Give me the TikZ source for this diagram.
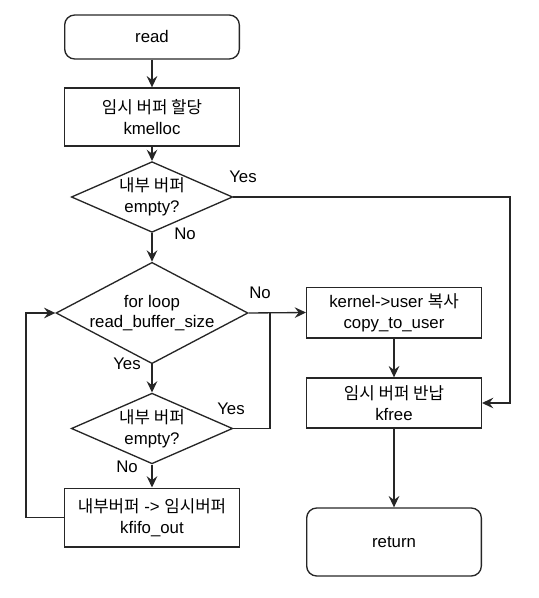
\documentclass[tikz,border=0pt]{standalone}
\usepackage{fontspec}
\setmainfont{Liberation Sans}
\newfontfamily\kr{Noto Sans CJK KR}
\usepackage{tikz}
\usetikzlibrary{shapes.geometric,arrows.meta}

\begin{document}
\begin{tikzpicture}[x=0.75pt,y=-0.75pt,
    every node/.style={font=\fontsize{12.6}{15.6}\selectfont,align=center,inner sep=0pt},
    box/.style={draw=black!85,line width=1pt,minimum width=131pt},
    rbox/.style={box,rounded corners=7.5pt},
    cond/.style={draw=black!85,line width=1pt,diamond,label={center:#1}},
    arr/.style={draw=black!85,line width=1pt,-{Stealth[length=8.5pt,width=8pt,inset=3pt]}},
    ln/.style={draw=black!85,line width=1pt}]
    \useasboundingbox (0,0) rectangle (538,598);
    \node[rbox,minimum height=33pt] (read) at (152,37) {read};
    \node[box,minimum height=43.5pt] (alloc) at (152,117) {{\kr 임시 버퍼 할당}\\kmelloc};
    \node[cond={{\kr 내부 버퍼}\\empty?},minimum width=121pt,minimum height=53pt] (chk) at (152,197) {};
    \node[cond={for loop\\read\_buffer\_size},minimum width=144pt,minimum height=76pt] (loop) at (152,313) {};
    \node[cond={{\kr 내부 버퍼}\\empty?},minimum width=121pt,minimum height=53pt] (chkin) at (152,428.5) {};
    \node[box,minimum height=44pt] (kfifo) at (152,517.5) {{\kr 내부버퍼} -> {\kr 임시버퍼}\\kfifo\_out};
    \node[box,minimum height=38pt] (copy) at (394,312.5) {kernel->user {\kr 복사}\\copy\_to\_user};
    \node[box,minimum height=37.5pt] (free) at (394,403) {{\kr 임시 버퍼 반납}\\kfree};
    \node[rbox,minimum height=51pt] (ret) at (394,542) {return};
    \coordinate (rgt) at (510,197);
    \coordinate (jn) at (270,313);
    \coordinate (lft) at (26,517.5);
    \draw[arr] (read) -- (alloc);
    \draw[arr] (alloc) -- (chk);
    \draw[arr] (chk.east) -- (rgt) |- (free.east);
    \node (y1) at (243,177) {Yes};
    \draw[arr] (chk.south) -- (loop.north);
    \node (n1) at (185,234) {No};
    \draw[arr] (loop.east) -- (copy.west);
    \node (n2) at (260,293) {No};
    \draw[arr] (loop.south) -- (chkin.north);
    \node (y2) at (127,364) {Yes};
    \draw[ln] (chkin.east) -| (jn);
    \node (y3) at (231,409) {Yes};
    \draw[arr] (chkin.south) -- (kfifo.north);
    \node (n3) at (127,467) {No};
    \draw[arr] (kfifo.west) -- (lft) |- (loop.west);
    \draw[arr] (copy) -- (free);
    \draw[arr] (free) -- (ret);
\end{tikzpicture}
\end{document}
